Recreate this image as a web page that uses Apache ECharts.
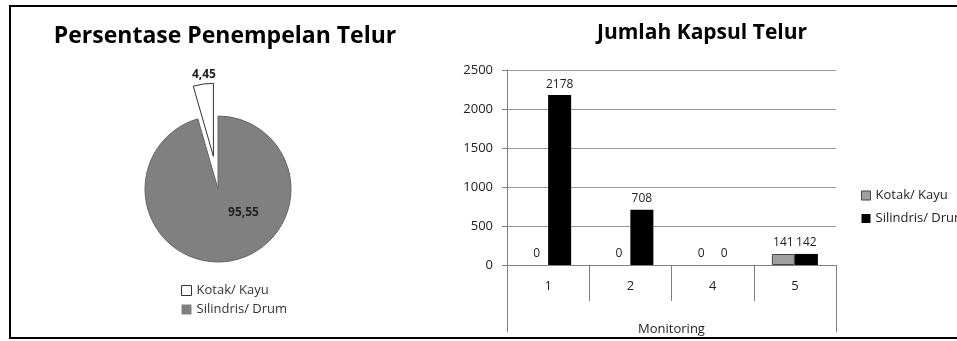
<!DOCTYPE html>
<html>
<head>
<meta charset="utf-8">
<script src="https://cdn.jsdelivr.net/npm/echarts@6/dist/echarts.min.js"></script>
<style>
html, body { margin: 0; padding: 0; background: #fff; }
#main { width: 957px; height: 341px; }
</style>
</head>
<body>
<div id="main"></div>
<script>
// data
var pieNames = ['Kotak/ Kayu', 'Silindris/ Drum'];
var pieValues = [4.45, 95.55];
var monitoring = ['1', '2', '4', '5'];
var kotakCounts = [0, 0, 0, 141];
var silindrisCounts = [2178, 708, 0, 142];

var font = 'Open Sans';
var chart = echarts.init(document.getElementById('main'));

function comma(v) {
	return String(v).replace('.', ',');
}

// shift of the pie labels from their inside spot
var pieLabelShift = [[-4, -43], [20, -16]];

option = {
	backgroundColor: '#fff',
	textStyle: { fontFamily: font },
	title: [{
		text: 'Persentase Penempelan Telur',
		left: 220,
		textAlign: 'center',
		top: 20,
		textStyle: { fontFamily: font, fontSize: 23, fontWeight: 'bold', color: '#000' }
	}, {
		text: 'Jumlah Kapsul Telur',
		left: 697,
		textAlign: 'center',
		top: 18,
		textStyle: { fontFamily: font, fontSize: 21, fontWeight: 'bold', color: '#000' }
	}],
	legend: [{
		orient: 'vertical',
		left: 176,
		top: 279,
		icon: 'rect',
		itemWidth: 10,
		itemHeight: 10,
		itemGap: 6,
		textStyle: { fontFamily: font, fontSize: 13, color: '#333' },
		data: [
			{ name: pieNames[0], itemStyle: { color: '#fff', borderColor: '#333', borderWidth: 1 } },
			{ name: pieNames[1], itemStyle: { color: '#808080', borderColor: '#808080', borderWidth: 0 } }
		]
	}, {
		orient: 'vertical',
		left: 856,
		top: 184,
		icon: 'rect',
		itemWidth: 9,
		itemHeight: 9,
		itemGap: 10,
		textStyle: { fontFamily: font, fontSize: 13, color: '#222' },
		data: [
			{ name: 'Kotak/ Kayu', itemStyle: { color: '#a0a0a0', borderColor: '#444', borderWidth: 1 } },
			{ name: 'Silindris/ Drum', itemStyle: { color: '#000', borderColor: '#000', borderWidth: 0 } }
		]
	}],
	grid: {
		left: 507,
		right: 121,
		top: 70,
		bottom: 70
	},
	xAxis: [{
		type: 'category',
		data: monitoring,
		name: 'Monitoring',
		nameLocation: 'middle',
		nameGap: 58,
		nameTextStyle: { fontFamily: font, fontSize: 13, color: '#222' },
		axisLine: { lineStyle: { color: '#808080' } },
		axisTick: { show: true, interval: 0, length: 36, lineStyle: { color: '#808080' } },
		axisLabel: { margin: 15, fontFamily: font, fontSize: 13, color: '#222' }
	}, {
		// outer frame lines of the grouped category axis
		type: 'category',
		data: [''],
		position: 'bottom',
		axisLine: { show: false },
		axisTick: { show: true, interval: 0, length: 67, lineStyle: { color: '#808080' } },
		axisLabel: { show: false }
	}],
	yAxis: {
		type: 'value',
		min: 0,
		max: 2500,
		interval: 500,
		axisLine: { show: true, lineStyle: { color: '#808080' } },
		axisTick: { show: true, length: 5, lineStyle: { color: '#808080' } },
		axisLabel: {
			margin: 14,
			fontFamily: font,
			fontSize: 13,
			color: '#222',
			formatter: function (v) { return String(v); }
		},
		splitLine: { lineStyle: { color: '#999' } }
	},
	series: [{
		type: 'pie',
		center: [218, 189],
		radius: 73,
		startAngle: 90,
		clockwise: false,
		selectedMode: 'multiple',
		selectedOffset: 33,
		label: {
			position: 'inside',
			fontFamily: font,
			fontSize: 12,
			fontWeight: 'bold',
			color: '#222',
			formatter: function (p) { return comma(p.value); }
		},
		labelLine: { show: false },
		labelLayout: function (p) {
			var s = pieLabelShift[p.dataIndex];
			return { dx: s[0], dy: s[1] };
		},
		data: [{
			name: pieNames[0],
			value: pieValues[0],
			selected: true,
			itemStyle: { color: '#fff', borderColor: '#333', borderWidth: 1 }
		}, {
			name: pieNames[1],
			value: pieValues[1],
			itemStyle: { color: '#808080', borderColor: '#666', borderWidth: 1 }
		}]
	}, {
		name: 'Kotak/ Kayu',
		type: 'bar',
		barWidth: 23,
		barGap: 0,
		data: kotakCounts.map(function (v) {
			return { value: v, itemStyle: { borderWidth: v ? 1 : 0 } };
		}),
		itemStyle: { color: '#a0a0a0', borderColor: '#444' },
		label: { show: true, position: 'top', distance: 5, fontFamily: font, fontSize: 12, color: '#222' }
	}, {
		name: 'Silindris/ Drum',
		type: 'bar',
		barWidth: 23,
		barGap: 0,
		data: silindrisCounts,
		itemStyle: { color: '#000', borderWidth: 0 },
		label: { show: true, position: 'top', distance: 5, fontFamily: font, fontSize: 12, color: '#222' }
	}],
	graphic: [{
		type: 'rect',
		shape: { x: 10, y: 6, width: 990, height: 332 },
		style: { fill: 'none', stroke: '#000', lineWidth: 2 },
		silent: true
	}]
};

chart.setOption(option);
window.addEventListener('resize', function () {
	chart.resize();
});
</script>
</body>
</html>
